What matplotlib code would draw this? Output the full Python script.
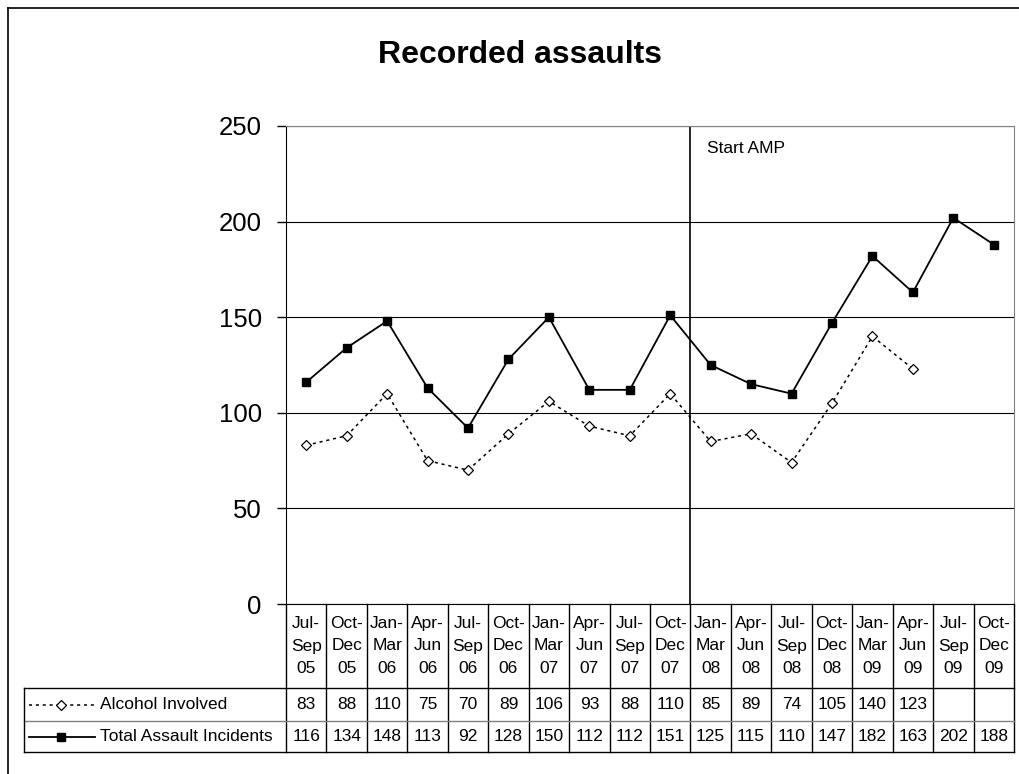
import numpy as np
import matplotlib
matplotlib.use("Agg")
import matplotlib.pyplot as plt
from matplotlib.lines import Line2D

# data
quarters = ["Jul-\nSep\n05", "Oct-\nDec\n05", "Jan-\nMar\n06", "Apr-\nJun\n06", "Jul-\nSep\n06",
            "Oct-\nDec\n06", "Jan-\nMar\n07", "Apr-\nJun\n07", "Jul-\nSep\n07", "Oct-\nDec\n07",
            "Jan-\nMar\n08", "Apr-\nJun\n08", "Jul-\nSep\n08", "Oct-\nDec\n08", "Jan-\nMar\n09",
            "Apr-\nJun\n09", "Jul-\nSep\n09", "Oct-\nDec\n09"]
alcohol = [83, 88, 110, 75, 70, 89, 106, 93, 88, 110, 85, 89, 74, 105, 140, 123, None, None]
total = [116, 134, 148, 113, 92, 128, 150, 112, 112, 151, 125, 115, 110, 147, 182, 163, 202, 188]
amp_start = 9.5   # between Oct-Dec 07 and Jan-Mar 08

plt.rcParams['font.family'] = ['Liberation Sans', 'DejaVu Sans']

W, H = 1020, 774
fig = plt.figure(figsize=(W / 100, H / 100), dpi=100)

# plot area in pixels
L, R, T, B = 286, 1014, 126, 604
ax = fig.add_axes([L / W, 1 - B / H, (R - L) / W, (B - T) / H])

n = len(quarters)
x = np.arange(n)
alc = np.array([np.nan if v is None else v for v in alcohol], dtype=float)

ax.plot(x, total, color='black', lw=1.3, marker='s', ms=6, mfc='black', mec='black', zorder=3)
ax.plot(x, alc, color='black', lw=1.1, ls=(0, (2, 2.5)), marker='D', ms=5.5,
        mfc='white', mec='black', mew=0.9, zorder=3)

ax.axvline(amp_start, color='black', lw=1.2, zorder=2)
ax.text(amp_start + 0.4, 238, "Start AMP", fontsize=12.5, va='center', ha='left')

ax.set_xlim(-0.5, n - 0.5)
ax.set_ylim(0, 250)
ax.set_yticks([0, 50, 100, 150, 200, 250])
ax.tick_params(axis='y', labelsize=18.5, length=6.5, width=1, direction='out', pad=11)
ax.set_xticks([])
ax.grid(axis='y', color='black', lw=0.8)
ax.set_axisbelow(True)
for s in ['top', 'right']:
    ax.spines[s].set_color('#808080')
ax.spines['left'].set_color('black')
ax.spines['bottom'].set_color('black')

fig.suptitle("Recorded assaults", x=520 / W, y=1 - 55 / H, va='center',
             fontsize=23, fontweight='bold')

# data table below the plot, drawn in pixel coords
tab = fig.add_axes([0, 0, 1, 1])
tab.set_xlim(0, W)
tab.set_ylim(H, 0)
tab.axis('off')
cw = (R - L) / n
row_a, row_t, tab_bot = 688, 721, 752
for i in range(n + 1):
    xx = L + i * cw
    tab.add_line(Line2D([xx, xx], [B, tab_bot], color='black', lw=1))
for yy, c in [(row_a, 'black'), (row_t, '#808080'), (tab_bot, 'black')]:
    tab.add_line(Line2D([24, R], [yy, yy], color=c, lw=1))
tab.add_line(Line2D([24, 24], [row_a, tab_bot], color='black', lw=1))

for i, q in enumerate(quarters):
    cx = L + (i + 0.5) * cw
    tab.text(cx, (B + row_a) / 2, q, ha='center', va='center', fontsize=12.5, linespacing=1.6)
    if alcohol[i] is not None:
        tab.text(cx, (row_a + row_t) / 2, str(alcohol[i]), ha='center', va='center', fontsize=12.5)
    tab.text(cx, (row_t + tab_bot) / 2, str(total[i]), ha='center', va='center', fontsize=12.5)

ya = (row_a + row_t) / 2
yt = (row_t + tab_bot) / 2
tab.add_line(Line2D([29, 95], [ya, ya], color='black', lw=1.1, ls=(0, (2, 2.5))))
tab.plot([61], [ya], marker='D', ms=5.5, mfc='white', mec='black', mew=0.9)
tab.add_line(Line2D([29, 95], [yt, yt], color='black', lw=1.3))
tab.plot([61], [yt], marker='s', ms=6, color='black')
tab.text(100, ya, "Alcohol Involved", ha='left', va='center', fontsize=12.5)
tab.text(100, yt, "Total Assault Incidents", ha='left', va='center', fontsize=12.5)

# outer chart border (top and left visible)
tab.add_line(Line2D([8, W], [8, 8], color='black', lw=1.2))
tab.add_line(Line2D([8, 8], [8, H], color='black', lw=1.2))

fig.savefig("out.png", dpi=100)
